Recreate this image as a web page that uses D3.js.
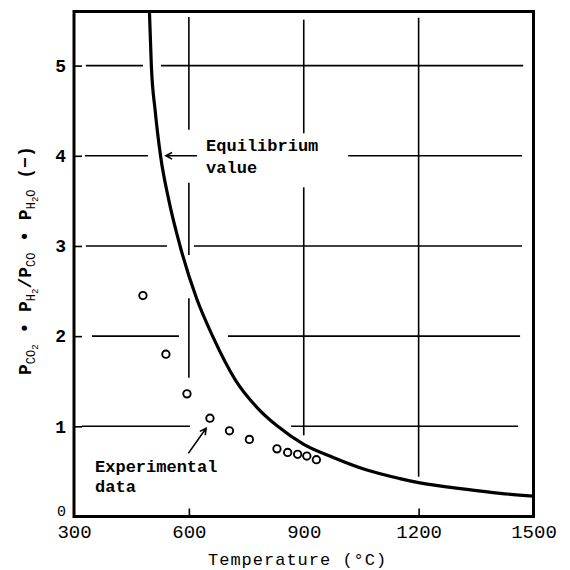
<!DOCTYPE html>
<html>
<head>
<meta charset="utf-8">
<script src="https://cdn.jsdelivr.net/npm/d3@7"></script>
<style>
  html, body { margin: 0; padding: 0; background: #fff; }
  svg { display: block; }
</style>
</head>
<body>
<svg id="chart" width="570" height="570"></svg>
<script>
// Equilibrium curve: temperature (°C) and ratio value
const eqTemp  = [497, 502, 512, 526, 548, 577, 620, 662, 722, 780, 832, 900, 977, 1065, 1151, 1200, 1326, 1413, 1500];
const eqValue = [5.6, 5.0, 4.5, 4.0, 3.5, 3.0, 2.42, 2.0, 1.51, 1.2, 1.0, 0.80, 0.655, 0.515, 0.42, 0.375, 0.30, 0.257, 0.225];

// Experimental data points
const expTemp  = [480, 540, 595, 655, 706, 758, 830, 858, 884, 908, 933];
const expValue = [2.45, 1.80, 1.36, 1.09, 0.95, 0.855, 0.75, 0.71, 0.69, 0.67, 0.63];

// Axis ticks
const xTicks = [300, 600, 900, 1200, 1500];
const yTicks = [0, 1, 2, 3, 4, 5];
const xInnerTicks = [600, 1200];
const yInnerTicks = [1, 2, 3, 4, 5];

// Grid rules, drawn in pieces so they stay clear of the curve and labels
const hGridValue = [5, 4, 3, 2, 1];
const hGridSpans = [
  [[331, 480], [527, 1473]],
  [[329, 493], [1016, 1470]],
  [[331, 543], [613, 1470]],
  [[347, 574], [702, 1465]],
  [[321, 603], [867, 1460]]
];
const vGridTemp = [600, 900, 1200];
const vGridSpans = [
  [[5.54, 4.29], [3.70, 2.90], [2.42, 1.54]],
  [[5.51, 4.25], [3.65, 0.90]],
  [[5.53, 0.44]]
];

const svg = d3.select("#chart");
const x = d3.scaleLinear().domain([300, 1500]).range([74, 533.5]);
const y = d3.scaleLinear().domain([0, 5.6]).range([516.5, 11.5]);

const mono = "'Liberation Mono', 'DejaVu Sans Mono', monospace";
const fmt = d3.format("d");

// grid
const grid = svg.append("g").attr("stroke", "#000").attr("stroke-width", 1.6);
hGridValue.forEach((v, i) => {
  hGridSpans[i].forEach(s => {
    grid.append("line")
      .attr("x1", x(s[0])).attr("x2", x(s[1]))
      .attr("y1", y(v)).attr("y2", y(v));
  });
});
vGridTemp.forEach((t, i) => {
  vGridSpans[i].forEach(s => {
    grid.append("line")
      .attr("x1", x(t)).attr("x2", x(t))
      .attr("y1", y(s[0])).attr("y2", y(s[1]));
  });
});

// axes
const yAxis = svg.append("g").attr("transform", `translate(${x(300)},0)`)
  .call(d3.axisLeft(y).tickValues(yTicks).tickFormat(fmt)
    .tickSizeInner(0).tickSizeOuter(0).tickPadding(8));
yAxis.select(".domain").remove();
yAxis.selectAll("text").attr("font-family", mono).attr("font-size", 18)
  .attr("font-weight", "bold").attr("fill", "#000");
// the zero label sits a little higher and lighter, just above the "300"
yAxis.selectAll("text").filter(d => d === 0)
  .attr("font-size", 15).attr("font-weight", "normal").attr("dy", "-0.05em");

const yIn = svg.append("g").attr("transform", `translate(${x(300)},0)`)
  .call(d3.axisLeft(y).tickValues(yInnerTicks).tickSizeInner(-8).tickSizeOuter(0).tickFormat(""));
yIn.select(".domain").remove();
yIn.selectAll("line").attr("stroke-width", 1.6);

const xAxis = svg.append("g").attr("transform", `translate(0,${y(0)})`)
  .call(d3.axisBottom(x).tickValues(xTicks).tickFormat(fmt)
    .tickSizeInner(0).tickSizeOuter(0).tickPadding(8));
xAxis.select(".domain").remove();
xAxis.selectAll("text").attr("font-family", mono).attr("font-size", 19).attr("fill", "#000");

const xIn = svg.append("g").attr("transform", `translate(0,${y(0)})`)
  .call(d3.axisBottom(x).tickValues(xInnerTicks).tickSizeInner(-8).tickSizeOuter(0).tickFormat(""));
xIn.select(".domain").remove();
xIn.selectAll("line").attr("stroke-width", 1.6);

// frame
svg.append("rect")
  .attr("x", x(300)).attr("y", y(5.6))
  .attr("width", x(1500) - x(300)).attr("height", y(0) - y(5.6))
  .attr("fill", "none").attr("stroke", "#000").attr("stroke-width", 3);

// equilibrium curve
const eqData = eqTemp.map((t, i) => [t, eqValue[i]]);
svg.append("path")
  .datum(eqData)
  .attr("fill", "none").attr("stroke", "#000").attr("stroke-width", 3.2)
  .attr("d", d3.line().x(d => x(d[0])).y(d => y(d[1])).curve(d3.curveMonotoneX));

// experimental points
const expData = expTemp.map((t, i) => [t, expValue[i]]);
svg.append("g").selectAll("circle").data(expData).join("circle")
  .attr("cx", d => x(d[0])).attr("cy", d => y(d[1])).attr("r", 3.7)
  .attr("fill", "#fff").attr("stroke", "#000").attr("stroke-width", 1.9);

// annotations
function arrow(from, to) {
  const x1 = x(from[0]), y1 = y(from[1]), x2 = x(to[0]), y2 = y(to[1]);
  const a = Math.atan2(y2 - y1, x2 - x1), L = 7, w = 0.5;
  const p = d3.path();
  p.moveTo(x1, y1); p.lineTo(x2, y2);
  p.moveTo(x2 - L * Math.cos(a - w), y2 - L * Math.sin(a - w));
  p.lineTo(x2, y2);
  p.lineTo(x2 - L * Math.cos(a + w), y2 - L * Math.sin(a + w));
  svg.append("path").attr("d", p.toString())
    .attr("fill", "none").attr("stroke", "#000").attr("stroke-width", 1.6);
}
arrow([621, 4.0], [540, 4.0]);
arrow([598.5, 0.70], [645, 0.978]);

function note(lines, t, v0, v1) {
  const g = svg.append("text").attr("font-family", mono).attr("font-size", 17)
    .attr("font-weight", "bold").attr("fill", "#000");
  g.append("tspan").attr("x", x(t)).attr("y", y(v0)).text(lines[0]);
  g.append("tspan").attr("x", x(t)).attr("y", y(v1)).text(lines[1]);
}
note(["Equilibrium", "value"], 645, 4.05, 3.81);
note(["Experimental", "data"], 355, 0.497, 0.275);

// x-axis title
svg.append("text")
  .attr("x", 208).attr("y", 565)
  .attr("font-family", mono).attr("font-size", 17).attr("letter-spacing", 1)
  .attr("fill", "#000")
  .text("Temperature (°C)");

// y-axis title
const yt = svg.append("text")
  .attr("transform", "translate(31,375) rotate(-90)")
  .attr("font-family", mono).attr("font-size", 18).attr("font-weight", "bold")
  .attr("fill", "#000");
function sub(txt, dy, size) {
  yt.append("tspan").attr("font-size", size).attr("font-weight", "normal")
    .attr("dy", dy).text(txt);
}
yt.append("tspan").text("P");
sub("CO", 4, 12); sub("2", 3, 9);
yt.append("tspan").attr("dy", -7).text(" • P");
sub("H", 4, 12); sub("2", 3, 9);
yt.append("tspan").attr("dy", -7).text("/P");
sub("CO", 4, 12);
yt.append("tspan").attr("dy", -4).text(" • P");
sub("H", 4, 12); sub("2", 3, 9); sub("O", -3, 12);
yt.append("tspan").attr("dy", -4).text(" (−)");
</script>
</body>
</html>
